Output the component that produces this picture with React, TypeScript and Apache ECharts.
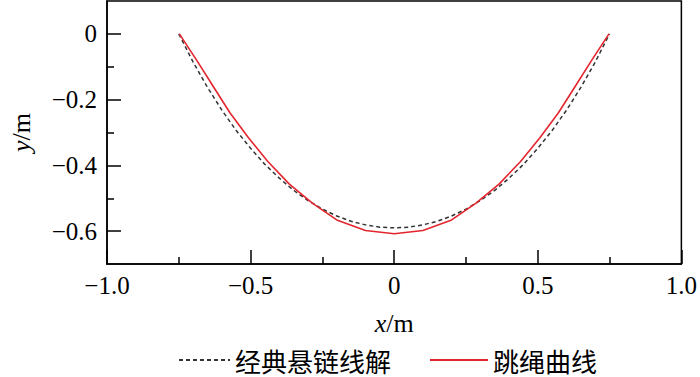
import React, { useEffect, useRef } from "react";
import * as echarts from "echarts";

// Classic catenary solution (dashed)
const catX = [
  -0.75, -0.7, -0.65, -0.6, -0.55, -0.5, -0.45, -0.4, -0.35, -0.3, -0.25, -0.2, -0.15, -0.1, -0.05,
  0, 0.05, 0.1, 0.15, 0.2, 0.25, 0.3, 0.35, 0.4, 0.45, 0.5, 0.55, 0.6, 0.65, 0.7, 0.75,
];
const catY = [
  0, -0.086, -0.163, -0.232, -0.294, -0.348, -0.397, -0.439, -0.476, -0.507, -0.533, -0.554, -0.57, -0.581, -0.588,
  -0.59, -0.588, -0.581, -0.57, -0.554, -0.533, -0.507, -0.476, -0.439, -0.397, -0.348, -0.294, -0.232, -0.163, -0.086, 0,
];

// Jump-rope curve (red, polyline vertices)
const ropeX = [
  -0.748, -0.688, -0.63, -0.572, -0.508, -0.44, -0.365, -0.285, -0.2, -0.1, 0,
  0.1, 0.2, 0.285, 0.365, 0.44, 0.508, 0.572, 0.63, 0.688, 0.748,
];
const ropeY = [
  0, -0.08, -0.16, -0.24, -0.315, -0.388, -0.457, -0.515, -0.566, -0.598, -0.608,
  -0.598, -0.566, -0.515, -0.457, -0.388, -0.315, -0.24, -0.16, -0.08, 0,
];

const yMajor = [-0.6, -0.4, -0.2, 0];
const yMinor = [-0.5, -0.3, -0.1];

const seriesNames = ["经典悬链线解", "跳绳曲线"];

const SERIF = "Liberation Serif";
const CJK = "Noto Sans CJK SC";

const fmt = (v: number) => {
  if (Math.abs(v) < 1e-9) return "0";
  return (v < 0 ? "\u2212" : "") + Math.abs(v).toFixed(1);
};

export default function App() {
  const ref = useRef<HTMLDivElement>(null);
  useEffect(() => {
    if (!ref.current) return;
    const chart = echarts.init(ref.current, undefined, { renderer: "svg" });
    const axisLineStyle = { color: "#000", width: 1.5 };
    const labelStyle = { fontSize: 25, color: "#000", fontFamily: SERIF };
    const nameStyle = {
      fontSize: 26,
      color: "#000",
      fontFamily: SERIF,
      rich: { i: { fontSize: 26, fontStyle: "italic", fontFamily: SERIF, color: "#000" } },
    };
    const legendText = { fontSize: 26, color: "#000", fontFamily: CJK };
    chart.setOption({
      animation: false,
      backgroundColor: "#fff",
      textStyle: { fontFamily: SERIF },
      grid: {
        left: 103,
        right: 17,
        top: 1,
        bottom: 113,
        show: true,
        borderColor: "#000",
        borderWidth: 1.5,
      },
      legend: [
        {
          data: [seriesNames[0]],
          left: 178,
          top: 347,
          padding: 0,
          itemWidth: 51,
          itemHeight: 10,
          itemStyle: { opacity: 0 },
          textStyle: legendText,
        },
        {
          data: [seriesNames[1]],
          left: 429,
          top: 347,
          padding: 0,
          itemWidth: 58,
          itemHeight: 10,
          itemStyle: { opacity: 0 },
          textStyle: legendText,
        },
      ],
      xAxis: {
        type: "value",
        min: -1,
        max: 1,
        interval: 0.5,
        axisLine: { show: true, onZero: false, lineStyle: axisLineStyle },
        axisTick: { show: true, inside: true, length: 14, lineStyle: axisLineStyle },
        minorTick: { show: true, splitNumber: 2, length: 7, lineStyle: axisLineStyle },
        splitLine: { show: false },
        axisLabel: { ...labelStyle, margin: 9, formatter: fmt },
        name: "{i|x}/m",
        nameLocation: "middle",
        nameGap: 46,
        nameTextStyle: nameStyle,
      },
      yAxis: [
        {
          type: "value",
          min: -0.7,
          max: 0.1,
          position: "left",
          axisLine: { show: true, onZero: false, lineStyle: axisLineStyle },
          axisTick: { show: true, inside: true, length: 14, lineStyle: axisLineStyle, customValues: yMajor },
          splitLine: { show: false },
          axisLabel: { ...labelStyle, margin: 10, formatter: fmt, customValues: yMajor },
          name: "{i|y}/m",
          nameLocation: "middle",
          nameGap: 73,
          nameTextStyle: nameStyle,
        },
        {
          type: "value",
          min: -0.7,
          max: 0.1,
          position: "left",
          offset: 0,
          axisLine: { show: false, onZero: false },
          axisTick: { show: true, inside: true, length: 7, lineStyle: axisLineStyle, customValues: yMinor },
          splitLine: { show: false },
          axisLabel: { show: false },
        },
      ],
      series: [
        {
          name: seriesNames[0],
          type: "line",
          symbol: "none",
          data: catX.map((x, i) => [x, catY[i]]),
          lineStyle: { color: "#333", width: 1.5, type: [4, 3] },
          itemStyle: { color: "#333" },
        },
        {
          name: seriesNames[1],
          type: "line",
          symbol: "none",
          data: ropeX.map((x, i) => [x, ropeY[i]]),
          lineStyle: { color: "#e3262e", width: 1.6 },
          itemStyle: { color: "#e3262e" },
        },
      ],
    });
    return () => chart.dispose();
  }, []);
  return (
    <div
      ref={ref}
      style={{ position: "fixed", left: 0, top: 0, width: 700, height: 377, background: "#fff" }}
    />
  );
}
